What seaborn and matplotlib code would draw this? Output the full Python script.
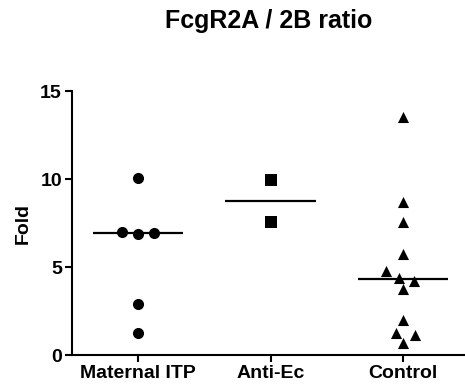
import pandas as pd
import matplotlib
matplotlib.use('Agg')
import matplotlib.pyplot as plt
import seaborn as sns

# Values
groups = ['Maternal ITP', 'Anti-Ec', 'Control']
maternal_itp = [10.07, 7.0, 6.9, 6.95, 2.88, 1.23]
anti_ec = [9.94, 7.54]
control = [13.5, 8.7, 7.54, 5.72, 4.77, 4.39, 4.2, 3.73, 1.99, 1.27, 1.14, 0.7]
markers = ['o', 's', '^']
marker_sizes = [8, 8.5, 8]

sns.set_style('ticks')
plt.rcParams['font.family'] = ['Liberation Sans', 'DejaVu Sans']
plt.rcParams['font.weight'] = 'bold'
for key in ['text.color', 'axes.labelcolor', 'xtick.color', 'ytick.color', 'axes.edgecolor']:
    plt.rcParams[key] = 'black'

df = pd.DataFrame({
    'group': ['Maternal ITP'] * len(maternal_itp) + ['Anti-Ec'] * len(anti_ec) + ['Control'] * len(control),
    'fold': maternal_itp + anti_ec + control,
})

fig = plt.figure(figsize=(4.65, 3.84), dpi=100)
ax = fig.add_axes([0.154, 0.0755, 0.85, 0.6875])

swarms = []
for i, (grp, mk, ms) in enumerate(zip(groups, markers, marker_sizes)):
    sub = df[df['group'] == grp]
    n_before = len(ax.collections)
    sns.swarmplot(data=sub, x='group', y='fold', order=groups, marker=mk,
                  size=ms, color='black', linewidth=0, ax=ax)
    for coll in ax.collections[n_before:]:
        swarms.append((coll, i))

ax.set_xlim(-0.5, 2.48)
ax.set_ylim(0, 15)

# let seaborn lay out the swarms, then spread them a little (Prism style)
fig.canvas.draw()
for coll, centre in swarms:
    offs = coll.get_offsets().copy()
    if 'draw' in coll.__dict__:
        del coll.draw
    offs[:, 0] = centre - (offs[:, 0] - centre) * 1.36
    coll.set_offsets(offs)

# median lines
sns.boxplot(data=df, x='group', y='fold', order=groups, width=0.68,
            showbox=False, showcaps=False, showfliers=False, whis=0,
            whiskerprops={'visible': False},
            medianprops={'color': 'black', 'linewidth': 1.6}, ax=ax)

ax.set_xlim(-0.5, 2.48)
ax.set_ylim(0, 15)
ax.set_yticks([0, 5, 10, 15])
ax.set_xlabel('')
ax.set_ylabel('Fold', fontsize=14, fontweight='bold', labelpad=6)
ax.tick_params(axis='both', direction='out', length=5, width=1.5, labelsize=14, pad=2)
for lbl in ax.get_xticklabels() + ax.get_yticklabels():
    lbl.set_fontweight('bold')
sns.despine(ax=ax)
ax.spines['left'].set_linewidth(1.5)
ax.spines['bottom'].set_linewidth(1.5)

fig.text(0.578, 0.945, 'FcgR2A / 2B ratio', ha='center', va='center',
         fontsize=18, fontweight='bold')

fig.savefig('out.png', dpi=100)
